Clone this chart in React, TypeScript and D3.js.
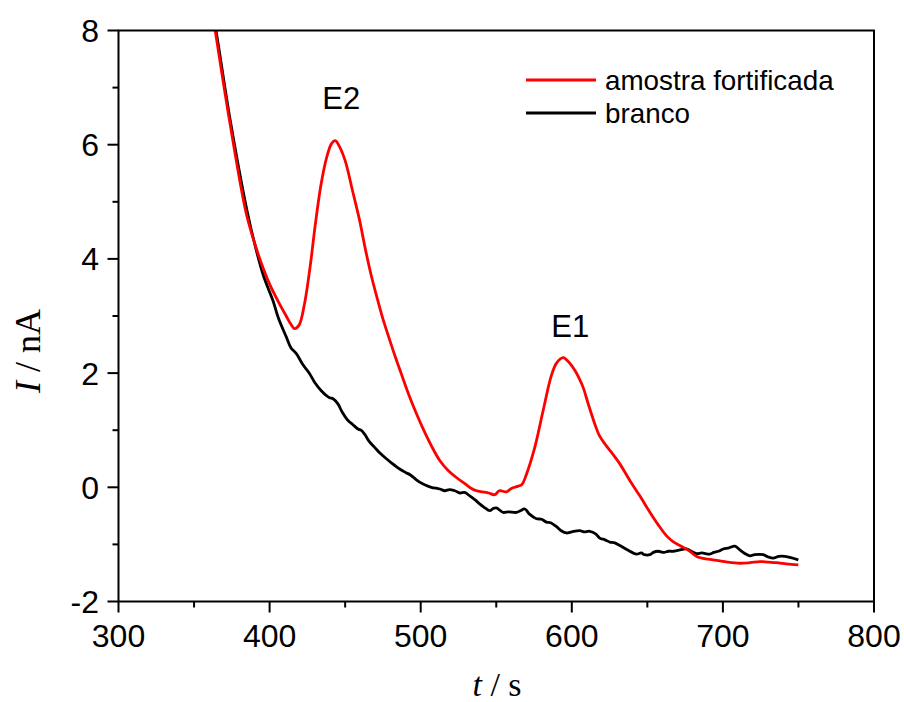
import React from "react";
import * as d3 from "d3";

const redT = [358, 364, 373.5, 384.6, 391, 396, 401, 406, 411, 414, 416.6, 419.5, 423, 427, 430, 434, 438, 441, 443.5, 446, 450, 455, 459.6, 463, 467, 471, 475, 479, 483, 487, 492, 497, 502, 507, 512.6, 518, 524.7, 529, 533.6, 537, 541, 545, 549, 552, 556.8, 560, 564.5, 567, 570, 575.5, 581, 586.5, 590, 594.3, 597, 602, 605, 607.5, 611, 615.2, 618, 621.9, 628, 631.8, 638.4, 645, 652, 657, 662.7, 667, 671.5, 677, 682.6, 690, 695.8, 703, 711.3, 718, 724.5, 730, 735.5, 742, 749.9];
const redI = [9.0, 8.0, 6.42, 4.79, 4.2, 3.82, 3.5, 3.24, 3.0, 2.86, 2.78, 2.84, 3.2, 3.9, 4.55, 5.3, 5.8, 6.02, 6.07, 5.98, 5.72, 5.18, 4.67, 4.22, 3.74, 3.33, 2.95, 2.62, 2.3, 2.0, 1.63, 1.3, 1.0, 0.73, 0.47, 0.3, 0.15, 0.07, -0.02, -0.06, -0.08, -0.1, -0.13, -0.06, -0.08, -0.02, 0.02, 0.05, 0.23, 0.7, 1.34, 1.96, 2.18, 2.27, 2.22, 2.05, 1.9, 1.75, 1.45, 1.11, 0.92, 0.76, 0.55, 0.41, 0.12, -0.15, -0.45, -0.65, -0.85, -0.95, -1.02, -1.1, -1.21, -1.26, -1.28, -1.31, -1.33, -1.32, -1.3, -1.31, -1.32, -1.34, -1.36];

const blackT = [358, 364.5, 374, 385.5, 391.2, 396, 402.2, 406, 411.1, 414, 417.7, 422, 426.5, 430, 434.2, 437, 439.7, 442, 445.2, 448, 451.9, 455, 458.5, 460.5, 462.9, 466, 469.5, 473, 477.3, 481, 486.1, 490, 493, 497.2, 499.3, 503, 507, 512.6, 516, 519, 522.5, 526, 529, 532.5, 536, 539, 542, 545.7, 548, 550.1, 554.5, 558, 563.4, 566, 568.9, 572, 576.6, 580, 583.2, 586, 589.9, 593, 596.5, 600, 605.3, 608, 611.9, 616, 618.5, 622, 625.2, 628, 631.8, 637, 642.8, 646, 648, 651.7, 654, 657.1, 661, 664, 667.1, 671, 675.9, 679, 682.6, 686, 691.4, 694, 697, 700.2, 704, 707.9, 711, 714, 717.9, 721, 726.7, 730, 733.3, 737, 741, 745, 749.9];
const blackI = [8.95, 8.0, 6.42, 4.79, 4.15, 3.7, 3.27, 2.95, 2.63, 2.45, 2.34, 2.15, 1.99, 1.83, 1.69, 1.62, 1.57, 1.55, 1.46, 1.32, 1.17, 1.1, 1.02, 1.0, 0.93, 0.8, 0.7, 0.6, 0.5, 0.42, 0.32, 0.26, 0.22, 0.13, 0.09, 0.04, 0.0, -0.03, -0.06, -0.04, -0.06, -0.1, -0.09, -0.15, -0.22, -0.29, -0.35, -0.41, -0.37, -0.36, -0.44, -0.43, -0.44, -0.41, -0.38, -0.47, -0.55, -0.56, -0.61, -0.62, -0.69, -0.76, -0.8, -0.78, -0.76, -0.78, -0.77, -0.82, -0.89, -0.92, -0.96, -0.97, -1.02, -1.1, -1.17, -1.15, -1.18, -1.18, -1.14, -1.12, -1.14, -1.12, -1.12, -1.1, -1.08, -1.12, -1.16, -1.15, -1.17, -1.14, -1.12, -1.08, -1.06, -1.03, -1.09, -1.15, -1.2, -1.18, -1.18, -1.22, -1.24, -1.21, -1.21, -1.23, -1.27];

const xTicks = [300, 400, 500, 600, 700, 800];
const xMinor = [350, 450, 550, 650, 750];
const yTicks = [-2, 0, 2, 4, 6, 8];
const yMinor = [-1, 1, 3, 5, 7];

const seriesNames = ["amostra fortificada", "branco"];
const seriesColors = ["#ff0000", "#000000"];
const peakLabels = [
  { label: "E2", t: 447.4, i: 6.63 },
  { label: "E1", t: 599, i: 2.64 },
];

const W = 904;
const H = 702;
const L = 118.5;
const R = 874;
const T = 30.5;
const B = 601.5;

export default function App() {
  const x = d3.scaleLinear().domain([300, 800]).range([L, R]);
  const y = d3.scaleLinear().domain([-2, 8]).range([B, T]);
  const smooth = d3
    .line<[number, number]>()
    .x((d) => x(d[0]))
    .y((d) => y(d[1]))
    .curve(d3.curveCatmullRom.alpha(0.5));
  const redPts = redT.map((t, i) => [t, redI[i]] as [number, number]);
  const blackPts = blackT.map((t, i) => [t, blackI[i]] as [number, number]);
  const sans = "'Liberation Sans', Arial, sans-serif";
  const serif = "'Liberation Serif', 'Times New Roman', serif";

  return (
    <svg
      width={W}
      height={H}
      style={{ position: "absolute", left: 0, top: 0, background: "#fff" }}
    >
      <defs>
        <clipPath id="plotclip">
          <rect x={L} y={T} width={R - L} height={B - T} />
        </clipPath>
      </defs>
      <rect x={0} y={0} width={W} height={H} fill="#fff" />
      <g clipPath="url(#plotclip)" fill="none" strokeLinejoin="round">
        <path d={smooth(blackPts) || ""} stroke={seriesColors[1]} strokeWidth={2.8} />
        <path d={smooth(redPts) || ""} stroke={seriesColors[0]} strokeWidth={2.8} />
      </g>
      <rect x={L} y={T} width={R - L} height={B - T} fill="none" stroke="#000" strokeWidth={2} />
      {yTicks.map((v) => (
        <g key={"y" + v}>
          <line x1={L - 11} x2={L} y1={y(v)} y2={y(v)} stroke="#000" strokeWidth={2} />
          <text x={99} y={y(v) + 11.5} textAnchor="end" fontFamily={sans} fontSize={32}>
            {v}
          </text>
        </g>
      ))}
      {yMinor.map((v) => (
        <line key={"ym" + v} x1={L - 6} x2={L} y1={y(v)} y2={y(v)} stroke="#000" strokeWidth={2} />
      ))}
      {xTicks.map((v) => (
        <g key={"x" + v}>
          <line x1={x(v)} x2={x(v)} y1={B} y2={B + 11} stroke="#000" strokeWidth={2} />
          <text x={x(v)} y={647} textAnchor="middle" fontFamily={sans} fontSize={32}>
            {v}
          </text>
        </g>
      ))}
      {xMinor.map((v) => (
        <line key={"xm" + v} x1={x(v)} x2={x(v)} y1={B} y2={B + 6} stroke="#000" strokeWidth={2} />
      ))}
      <text x={497} y={696} textAnchor="middle" fontFamily={serif} fontSize={34}>
        <tspan fontStyle="italic">t</tspan> / s
      </text>
      <text
        transform={`translate(40, 351) rotate(-90)`}
        textAnchor="middle"
        fontFamily={serif}
        fontSize={36}
      >
        <tspan fontStyle="italic">I</tspan> / nA
      </text>
      {peakLabels.map((p) => (
        <text key={p.label} x={x(p.t)} y={y(p.i)} textAnchor="middle" fontFamily={sans} fontSize={31}>
          {p.label}
        </text>
      ))}
      {seriesNames.map((n, i) => (
        <g key={n}>
          <line x1={526} x2={596} y1={80 + i * 33} y2={80 + i * 33} stroke={seriesColors[i]} strokeWidth={2.8} />
          <text x={605} y={89.5 + i * 33} fontFamily={sans} fontSize={27.8}>
            {n}
          </text>
        </g>
      ))}
    </svg>
  );
}
